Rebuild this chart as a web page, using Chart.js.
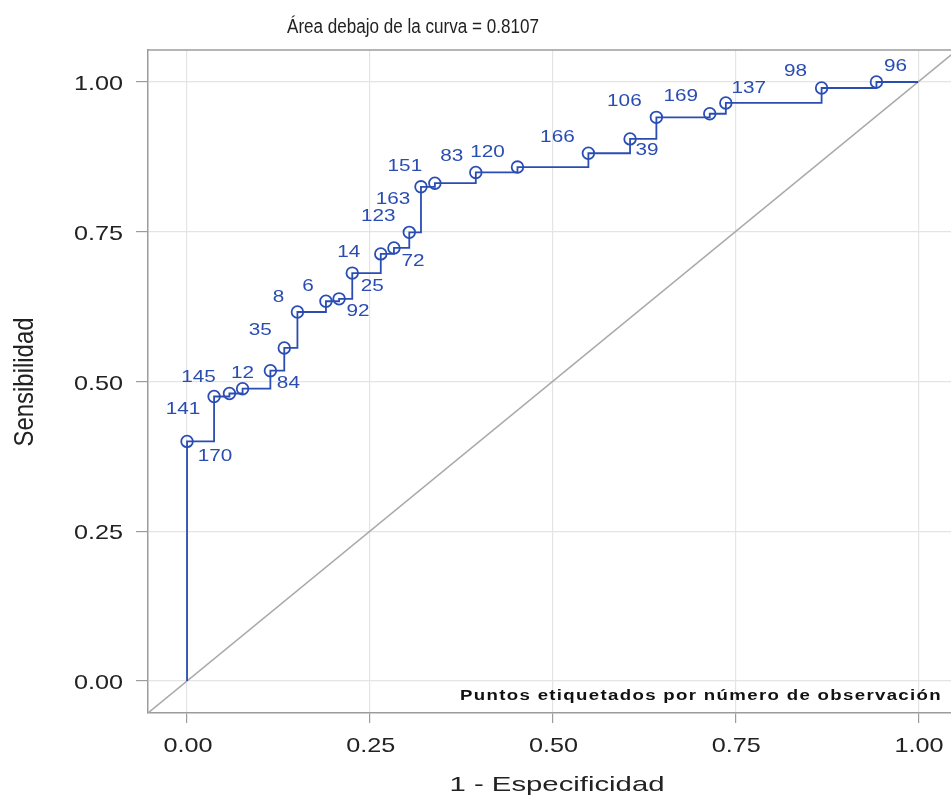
<!DOCTYPE html>
<html><head><meta charset="utf-8">
<script src="https://cdn.jsdelivr.net/npm/chart.js@4"></script>
<style>html,body{margin:0;padding:0;background:#fff}canvas{display:block}</style>
</head><body>
<canvas id="c" width="951" height="797"></canvas>
<script>
// ---- data ----
const fpr  = [0.000,0.037,0.058,0.076,0.114,0.133,0.151,0.190,0.208,0.226,0.265,0.283,0.304,0.320,0.339,0.395,0.452,0.549,0.606,0.642,0.715,0.737,0.868,0.943];
const sens = [0.400,0.475,0.480,0.488,0.518,0.556,0.616,0.634,0.638,0.681,0.713,0.723,0.749,0.825,0.831,0.849,0.858,0.881,0.905,0.941,0.947,0.965,0.990,1.000];
const obsLabels = ['170','141','145','12','84','35','8','6','92','25','14','72','123','163','151','83','120','166','39','106','169','137','98','96'];
const curveStart = {x:0, y:0};
const curveEnd = {x:1, y:1};
const diagX = [-0.1, 1.1];
const tickValues = [0, 0.25, 0.5, 0.75, 1];
const tickLabels = ['0.00','0.25','0.50','0.75','1.00'];
const titleText = 'Área debajo de la curva = 0.8107';
const xTitle = '1 - Especificidad';
const yTitle = 'Sensibilidad';
const noteText = 'Puntos etiquetados por número de observación';

// ---- label placement (pixel offsets of label centre from its point) ----
const labelOffsets = [[28,15],[-31,13],[-31,-16],[0,-15],[18,13],[-24,-18],[-19,-15],[-18,-15],[19,12],[20,13],[-32,-2],[19,13],[-31,-16],[-28,12],[-30,-17],[-24,-16],[-30,-15],[-31,-16],[17,11],[-32,-16],[-29,-17],[23,-15],[-26,-17],[19,-16]];

const BLUE = '#2a4db3';
const FRAME = '#9c9c9c';
const GRID = '#e4e4e4';
const SANS = "'Liberation Sans', Arial, sans-serif";

const curve = [curveStart].concat(fpr.map((x,i)=>({x, y:sens[i]}))).concat([curveEnd]);
const radii = curve.map((p,i)=> (i===0 || i===curve.length-1) ? 0 : 5.8);
const diag = diagX.map(v=>({x:v, y:v}));

function txt(ctx, s, x, y, o) {
  ctx.save();
  ctx.translate(x, y);
  if (o.rot) ctx.rotate(o.rot);
  ctx.font = o.font;
  let sx = o.sx || 1;
  if (o.width) sx = o.width / ctx.measureText(s).width;
  ctx.scale(sx, 1);
  ctx.fillStyle = o.color || '#222';
  ctx.textAlign = o.align || 'center';
  ctx.textBaseline = o.base || 'alphabetic';
  ctx.fillText(s, 0, 0);
  ctx.restore();
}

const textPlugin = {
  id: 'texts',
  afterDatasetsDraw(chart) {
    const ctx = chart.ctx;
    const meta = chart.getDatasetMeta(0);
    obsLabels.forEach((lab, i) => {
      const el = meta.data[i+1];
      const [dx, dy] = labelOffsets[i];
      txt(ctx, lab, el.x + dx, el.y + dy, {font: '17px ' + SANS, sx: 1.22, color: BLUE, base: 'middle'});
    });
  },
  afterDraw(chart) {
    const ctx = chart.ctx;
    const a = chart.chartArea;
    const xs = chart.scales.x, ys = chart.scales.y;
    // top frame line
    ctx.save();
    ctx.strokeStyle = FRAME; ctx.lineWidth = 1.5;
    ctx.beginPath(); ctx.moveTo(a.left, a.top); ctx.lineTo(a.right, a.top); ctx.stroke();
    ctx.restore();
    // tick labels
    tickValues.forEach((v, i) => {
      txt(ctx, tickLabels[i], xs.getPixelForValue(v) + 1, a.bottom + 39, {font: '21px ' + SANS, sx: 1.2, color: '#222'});
      txt(ctx, tickLabels[i], a.left - 25, ys.getPixelForValue(v) + 8, {font: '21px ' + SANS, sx: 1.2, color: '#222', align: 'right'});
    });
    // titles
    txt(ctx, titleText, 413, 33, {font: '20px ' + SANS, width: 252, color: '#222'});
    txt(ctx, xTitle, 557, 791, {font: '21px ' + SANS, width: 215, color: '#222'});
    txt(ctx, yTitle, 33, 382, {font: '27px ' + SANS, width: 129, color: '#222', rot: -Math.PI/2});
    // note
    ctx.save();
    ctx.font = 'bold 14px ' + SANS;
    ctx.fillStyle = '#111'; ctx.textAlign = 'left'; ctx.textBaseline = 'alphabetic';
    if ('letterSpacing' in ctx) ctx.letterSpacing = '1px';
    const w0 = ctx.measureText(noteText).width;
    ctx.translate(460, 700); ctx.scale(482 / w0, 1);
    ctx.fillText(noteText, 0, 0);
    ctx.restore();
  }
};

const axisCommon = {
  type: 'linear',
  afterBuildTicks: s => { s.ticks = tickValues.map(v => ({value: v})); },
  ticks: {display: false},
  grid: {color: GRID, lineWidth: 1.2, tickColor: FRAME, drawTicks: true},
  border: {display: true, color: FRAME, width: 1.5}
};

new Chart(document.getElementById('c'), {
  type: 'line',
  data: {
    datasets: [
      {
        data: curve,
        stepped: true,
        borderColor: BLUE,
        borderWidth: 1.8,
        pointRadius: radii,
        pointBorderColor: BLUE,
        pointBackgroundColor: 'rgba(0,0,0,0)',
        pointBorderWidth: 1.8,
        fill: false,
        tension: 0
      },
      {
        data: diag,
        borderColor: '#a9a9a9',
        borderWidth: 1.5,
        pointRadius: 0,
        fill: false,
        clip: 0
      }
    ]
  },
  options: {
    responsive: false,
    animation: false,
    events: [],
    layout: {padding: {left: 136, top: 50, right: 0, bottom: 74}},
    plugins: {legend: {display: false}, tooltip: {enabled: false}, title: {display: false}},
    scales: {
      x: Object.assign({}, axisCommon, {min: -0.0534, max: 1.045, grid: Object.assign({}, axisCommon.grid, {tickLength: 10})}),
      y: Object.assign({}, axisCommon, {min: -0.0534, max: 1.0534, grid: Object.assign({}, axisCommon.grid, {tickLength: 12})})
    }
  },
  plugins: [textPlugin]
});
</script>
</body></html>
